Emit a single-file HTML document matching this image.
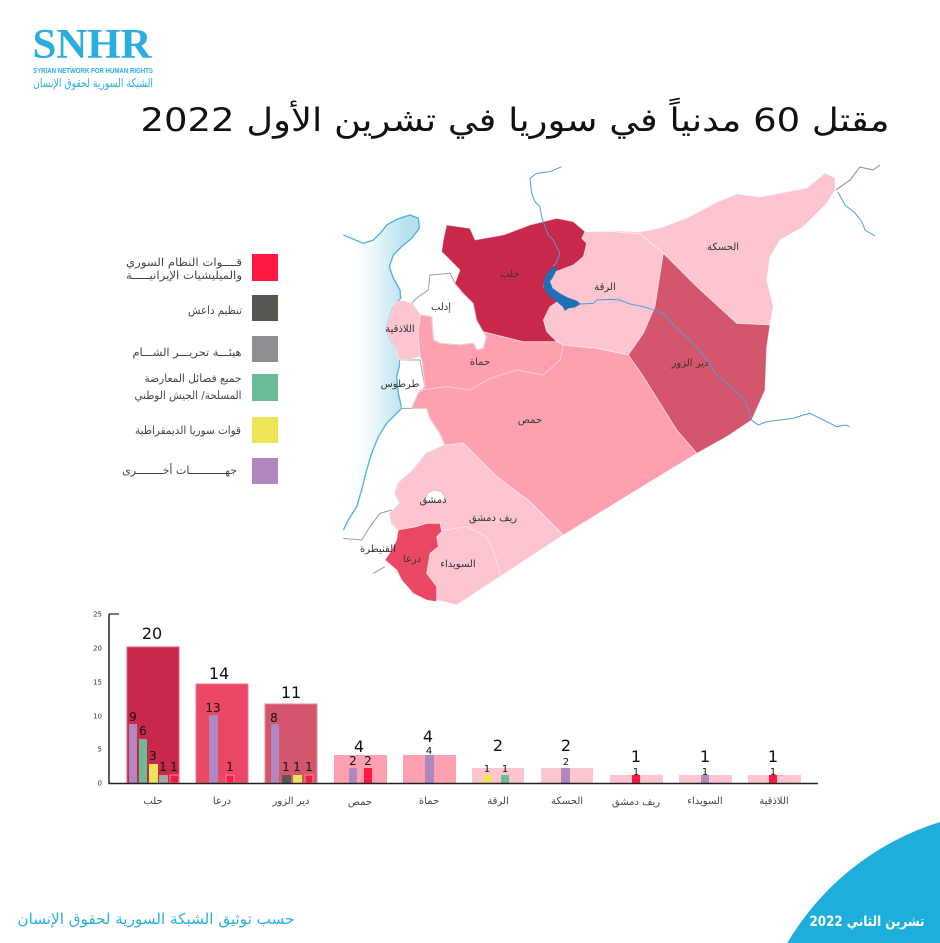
<!DOCTYPE html>
<html><head><meta charset="utf-8">
<style>
html,body{margin:0;padding:0;background:#fff;width:940px;height:943px;overflow:hidden;}
svg{display:block;}
text{font-family:"DejaVu Sans","Liberation Sans",sans-serif;}
</style></head>
<body>
<svg width="940" height="943" viewBox="0 0 940 943" xmlns="http://www.w3.org/2000/svg">
<defs>
<linearGradient id="sea" gradientUnits="userSpaceOnUse" x1="40" y1="0" x2="225" y2="0">
<stop offset="0" stop-color="#ffffff" stop-opacity="0"/>
<stop offset="0.55" stop-color="#e6f5fa"/>
<stop offset="1" stop-color="#b8e1ef"/>
</linearGradient>
</defs>

<!-- Logo -->
<text x="92" y="58" text-anchor="middle" font-weight="bold" font-size="42" fill="#2aaee0" textLength="119" lengthAdjust="spacingAndGlyphs" style="font-family:'Liberation Serif',serif">SNHR</text>
<text x="93" y="73" text-anchor="middle" font-weight="bold" font-size="7.5" fill="#2aaee0" textLength="120" lengthAdjust="spacingAndGlyphs" style="font-family:'Liberation Sans',sans-serif">SYRIAN NETWORK FOR HUMAN RIGHTS</text>
<text x="93" y="87" text-anchor="middle" font-size="12" fill="#2aaee0" textLength="120" lengthAdjust="spacingAndGlyphs" direction="rtl">الشبكة السورية لحقوق الإنسان</text>

<!-- Title -->
<text x="515" y="131" text-anchor="middle" font-size="32" fill="#111" textLength="749" lengthAdjust="spacingAndGlyphs" direction="rtl">مقتل 60 مدنياً في سوريا في تشرين الأول 2022</text>

<!-- Legend -->
<rect x="252" y="254" width="26" height="27" fill="#fe1844"/>
<rect x="252" y="295" width="26" height="26" fill="#555750"/>
<rect x="252" y="336" width="26" height="26" fill="#8e8e93"/>
<rect x="252" y="374" width="26" height="27" fill="#6abb98"/>
<rect x="252" y="417" width="26" height="26" fill="#ede45a"/>
<rect x="252" y="458" width="26" height="26" fill="#ae88bf"/>
<g font-size="11" fill="#444" text-anchor="middle" direction="rtl">
<text x="184" y="266" textLength="116" lengthAdjust="spacingAndGlyphs">قــــوات النظام السوري</text>
<text x="184" y="279" textLength="116" lengthAdjust="spacingAndGlyphs">والميليشيات الإيرانيـــــة</text>
<text x="215" y="314" textLength="54" lengthAdjust="spacingAndGlyphs">تنظيم داعش</text>
<text x="187" y="356" textLength="109" lengthAdjust="spacingAndGlyphs">هيئـــة تحريـــر الشـــام</text>
<text x="193" y="382" textLength="97" lengthAdjust="spacingAndGlyphs">جميع فصائل المعارضة</text>
<text x="188" y="399" textLength="107" lengthAdjust="spacingAndGlyphs">المسلحة/ الجيش الوطني</text>
<text x="188" y="434" textLength="106" lengthAdjust="spacingAndGlyphs">قوات سوريا الديمقراطية</text>
</g>
<text x="237" y="474" font-size="11" fill="#444" text-anchor="start" direction="rtl">جهـــــــــــات أخــــــــرى</text>

<!-- Map -->
<g transform="translate(330,160) scale(0.33333)">
<path d="M40,225 L100,250 L130,240 L155,215 L170,195 L200,178 L240,165 L265,175 L268,205 L245,235 L215,260 L190,285 L178,320 L190,355 L210,390 L212,415 L190,440 L180,470 L168,510 L185,545 L205,575 L210,610 L200,650 L205,700 L215,745 L195,765 L170,790 L145,830 L125,880 L110,930 L95,990 L80,1040 L55,1080 L40,1110 Z" fill="url(#sea)"/>
<path d="M40,225 L100,250 L130,240 L155,215 L170,195 L200,178 L240,165 L265,175 L268,205 L245,235 L215,260 L190,285 L178,320 L190,355 L210,390 L212,415 L190,440 L180,470 L168,510 L185,545 L205,575 L210,610 L200,650 L205,700 L215,745 L195,765 L170,790 L145,830 L125,880 L110,930 L95,990 L80,1040 L55,1080 L40,1110" fill="none" stroke="#4db3dc" stroke-width="4"/>

<path d="M245,429 L265,410 L295,390 L300,345 L360,340 L375,370 L400,400 L430,430 L440,480 L460,515 L470,530 L460,565 L440,570 L430,550 L390,555 L330,550 L310,540 L305,470 L270,465 Z" fill="#fff" stroke="#a0a0a0" stroke-width="3"/>
<path d="M210,600 L270,600 L285,680 L265,700 L245,745 L215,745" fill="#fff" stroke="#a0a0a0" stroke-width="3"/>
<path d="M245,745 L290,745 L300,775 L330,820 L345,855 L290,880 L250,930 L205,970 L195,1000 L210,1030 L180,1060 L185,1090 L205,1110" fill="none" stroke="#a0a0a0" stroke-width="3"/>
<path d="M40,1135 L95,1140 L120,1100 L150,1060 L185,1050" fill="none" stroke="#9a9a9a" stroke-width="3"/>
<path d="M130,1240 L165,1220" fill="none" stroke="#9a9a9a" stroke-width="3"/>

<g stroke="#ffffff" stroke-opacity="0.55" stroke-width="2.5" stroke-linejoin="round">
<path fill="#fdc5d0" d="M765,215 L850,212 L930,216 L990,204 L1071,174 L1161,126 L1221,102 L1290,111 L1431,84 L1485,39 L1515,54 L1515,90 L1491,129 L1419,201 L1350,240 L1320,291 L1310,360 L1320,400 L1330,440 L1320,495 L1220,490 L1100,380 L1000,280 L930,222 L850,215 Z"/>
<path fill="#fdc5d0" d="M765,215 L850,215 L930,222 L1000,280 L975,440 L940,520 L895,585 L800,565 L700,555 L680,545 L650,515 L640,480 L660,440 L690,420 L670,410 L640,380 L650,345 L690,330 L730,315 L760,290 L770,250 L755,235 Z"/>
<path fill="#d4566d" d="M1000,280 L1100,380 L1220,490 L1320,495 L1310,560 L1305,690 L1265,780 L1190,830 L1100,880 L1040,810 L940,650 L895,585 L940,520 L975,440 Z"/>
<path fill="#fea0b0" d="M270,465 L305,470 L310,540 L330,550 L390,555 L430,550 L440,570 L460,565 L470,530 L460,515 L520,530 L580,545 L680,545 L700,555 L800,565 L895,585 L940,650 L1040,810 L1100,880 L700,1125 L600,1025 L500,950 L400,850 L345,855 L330,820 L300,775 L290,745 L245,745 L265,700 L285,680 L275,600 L270,591 L264,519 Z"/>
<path fill="#fdc5d0" d="M190,430 L215,420 L245,429 L270,465 L264,519 L270,591 L230,600 L205,600 L200,570 L185,545 L168,510 L180,470 L190,440 Z"/>
<path fill="#fdc5d0" d="M345,855 L400,850 L500,950 L600,1025 L700,1125 L380,1335 L320,1320 L320,1280 L290,1240 L300,1180 L325,1160 L320,1130 L335,1115 L330,1090 L290,1090 L260,1100 L205,1110 L185,1090 L180,1060 L210,1030 L195,1000 L205,970 L250,930 L290,880 L330,860 Z"/>
<path fill="#c8294a" d="M350,195 L420,205 L435,240 L520,225 L600,195 L640,185 L680,175 L730,185 L765,215 L755,235 L770,250 L760,290 L730,315 L690,330 L650,345 L640,380 L670,410 L690,420 L660,440 L640,480 L650,515 L680,545 L580,545 L520,530 L460,515 L440,480 L430,430 L400,400 L375,370 L390,330 L360,300 L335,275 L340,240 Z"/>
<path fill="#e94763" d="M205,1110 L260,1100 L290,1090 L330,1090 L335,1115 L320,1130 L325,1160 L300,1180 L290,1240 L320,1280 L320,1325 L290,1320 L250,1300 L215,1260 L200,1230 L165,1200 L185,1170 L200,1140 Z"/>
</g>
<path d="M275,690 L350,680 L420,690 L480,655 L560,630 L640,645 L690,600 L700,555" fill="none" stroke="#fff" stroke-opacity="0.45" stroke-width="3"/>
<path d="M335,1112 L410,1100 L470,1130 L500,1200 L530,1320" fill="none" stroke="#fff" stroke-opacity="0.45" stroke-width="3"/>
<path d="M285,1020 L292,1000 L312,990 L335,995 L345,1012 L340,1025 L300,1026 Z" fill="#fff" stroke="#bbb" stroke-width="2"/>

<path d="M695,20 L660,35 L620,40 L600,55 L605,100 L615,125 L630,140 L635,170 L645,200 L655,225 L670,240 L680,260 L690,280 L680,305 L670,320" fill="none" stroke="#4e9fd6" stroke-width="3"/>
<path d="M668,318 L680,330 L670,350 L660,365 L668,385 L690,400 L712,412 L740,422 L752,432 L735,442 L715,445 L705,453 L698,440 L680,425 L655,405 L640,380 L645,350 Z" fill="#1f70b8"/>
<path d="M750,432 L790,430 L800,420 L840,418 L870,420 L900,432 L940,440 L965,448 L985,455 L1000,460 L1015,475 L1030,495 L1050,515 L1075,535 L1100,560 L1115,580 L1130,600 L1145,620 L1155,640 L1180,660 L1200,680 L1225,700 L1245,720 L1255,750 L1265,780 L1285,795 L1310,785 L1350,780 L1390,775 L1420,765 L1440,760 L1470,775 L1500,790 L1520,800 L1545,795 L1560,800" fill="none" stroke="#4e9fd6" stroke-width="3"/>
</g>
<path d="M836,190 L850,180 L860,167 L873,170 L880,165" fill="none" stroke="#888" stroke-width="1"/>
<path d="M838,192 L845,205 L855,213 L862,222 L865,230 L875,236" fill="none" stroke="#4e9fd6" stroke-width="1"/>

<g font-size="10" fill="#333" text-anchor="middle" direction="rtl">
<text x="510" y="277">حلب</text>
<text x="441" y="310">إدلب</text>
<text x="400" y="332">اللاذقية</text>
<text x="480" y="365">حماة</text>
<text x="400" y="387">طرطوس</text>
<text x="530" y="423">حمص</text>
<text x="605" y="290">الرقة</text>
<text x="723" y="250">الحسكة</text>
<text x="690" y="366">دير الزور</text>
<text x="433" y="503">دمشق</text>
<text x="493" y="521">ريف دمشق</text>
<text x="378" y="552">القنيطرة</text>
<text x="412" y="562">درعا</text>
<text x="458" y="567">السويداء</text>
</g>

<!-- Chart -->
<g>
<rect x="127" y="647" width="52" height="136" fill="#c8294a" stroke="#e0607a" stroke-width="1"/>
<rect x="196" y="684" width="52" height="99" fill="#e94763" stroke="#f27a90" stroke-width="1"/>
<rect x="265" y="704" width="52" height="79" fill="#d4566d" stroke="#e8889a" stroke-width="1"/>
<rect x="334" y="755" width="53" height="28" fill="#fea0b0"/>
<rect x="403" y="755" width="53" height="28" fill="#fea0b0"/>
<rect x="472" y="768" width="52" height="15" fill="#fdc5d0"/>
<rect x="541" y="768" width="52" height="15" fill="#fdc5d0"/>
<rect x="610" y="775" width="53" height="8" fill="#fdc5d0"/>
<rect x="679" y="775" width="53" height="8" fill="#fdc5d0"/>
<rect x="748" y="775" width="53" height="8" fill="#fdc5d0"/>

<rect x="129" y="724" width="8" height="59" fill="#ae88bf"/>
<rect x="139" y="739" width="8" height="44" fill="#6abb98"/>
<rect x="149" y="764" width="9" height="19" fill="#ede45a"/>
<rect x="159" y="775" width="9" height="8" fill="#a6a6a6"/>
<rect x="170" y="775" width="9" height="8" fill="#fe1844" stroke="#f58a9c" stroke-width="1"/>

<rect x="209" y="715" width="9" height="68" fill="#ae88bf"/>
<rect x="226" y="775" width="8" height="8" fill="#fe1844" stroke="#f58a9c" stroke-width="1"/>

<rect x="271" y="724" width="8" height="59" fill="#ae88bf"/>
<rect x="282" y="775" width="9" height="8" fill="#555750"/>
<rect x="293" y="775" width="9" height="8" fill="#ede45a"/>
<rect x="305" y="775" width="8" height="8" fill="#fe1844" stroke="#f58a9c" stroke-width="1"/>

<rect x="349" y="768" width="8" height="15" fill="#ae88bf"/>
<rect x="364" y="768" width="8" height="15" fill="#fe1844"/>

<rect x="425" y="755" width="9" height="28" fill="#ae88bf"/>

<rect x="483" y="775" width="9" height="8" fill="#ede45a"/>
<rect x="501" y="775" width="8" height="8" fill="#6abb98"/>

<rect x="561" y="768" width="9" height="15" fill="#ae88bf"/>

<rect x="632" y="775" width="8" height="8" fill="#fe1844"/>
<rect x="701" y="775" width="8" height="8" fill="#ae88bf"/>
<rect x="769" y="775" width="8" height="8" fill="#fe1844"/>

<line x1="109" y1="614" x2="109" y2="783.5" stroke="#222" stroke-width="1.5"/>
<line x1="109" y1="614" x2="119" y2="614" stroke="#222" stroke-width="1.2"/>
<line x1="108.5" y1="783.5" x2="818" y2="783.5" stroke="#222" stroke-width="1.5"/>
<g font-size="7" fill="#333" text-anchor="end" style="font-family:'Liberation Sans',sans-serif">
<text x="102" y="616.5">25</text>
<text x="102" y="650.5">20</text>
<text x="102" y="684.5">15</text>
<text x="102" y="718.5">10</text>
<text x="102" y="751.5">5</text>
<text x="102" y="785.5">0</text>
</g>

<g font-size="16" fill="#111" text-anchor="middle">
<text x="152" y="639">20</text>
<text x="219" y="679">14</text>
<text x="291" y="698">11</text>
<text x="359" y="752">4</text>
<text x="428" y="742">4</text>
<text x="498" y="751">2</text>
<text x="566" y="751">2</text>
<text x="636" y="762">1</text>
<text x="705" y="762">1</text>
<text x="773" y="762">1</text>
</g>
<g font-size="12" fill="#111" text-anchor="middle">
<text x="133" y="721">9</text>
<text x="143" y="735">6</text>
<text x="153" y="760">3</text>
<text x="163" y="771">1</text>
<text x="174" y="771">1</text>
<text x="213" y="712">13</text>
<text x="230" y="771">1</text>
<text x="274" y="722">8</text>
<text x="286" y="771">1</text>
<text x="297" y="771">1</text>
<text x="309" y="771">1</text>
<text x="353" y="765">2</text>
<text x="368" y="765">2</text>
</g>
<g font-size="10" fill="#111" text-anchor="middle">
<text x="429" y="754">4</text>
<text x="487" y="772">1</text>
<text x="505" y="772">1</text>
<text x="566" y="765">2</text>
<text x="636" y="775">1</text>
<text x="705" y="775">1</text>
<text x="773" y="775">1</text>
</g>

<g font-size="10" fill="#444" text-anchor="middle" direction="rtl">
<text x="153" y="804">حلب</text>
<text x="222" y="804">درعا</text>
<text x="291" y="804">دير الزور</text>
<text x="360" y="805">حمص</text>
<text x="429" y="804">حماة</text>
<text x="498" y="804">الرقة</text>
<text x="567" y="804">الحسكة</text>
<text x="636" y="805">ريف دمشق</text>
<text x="705" y="804">السويداء</text>
<text x="774" y="804">اللاذقية</text>
</g>
</g>

<!-- Footer -->
<path d="M940,822 A270,270 0 0 0 787.3,943 L940,943 Z" fill="#1eaedb"/>
<text x="867" y="926" text-anchor="middle" font-size="14" font-weight="bold" fill="#fff" textLength="115" lengthAdjust="spacingAndGlyphs" direction="rtl">تشرين الثاني 2022</text>
<text x="156" y="924" text-anchor="middle" font-size="15" fill="#2ab0da" textLength="277" lengthAdjust="spacingAndGlyphs" direction="rtl">حسب توثيق الشبكة السورية لحقوق الإنسان</text>
</svg>
</body></html>
